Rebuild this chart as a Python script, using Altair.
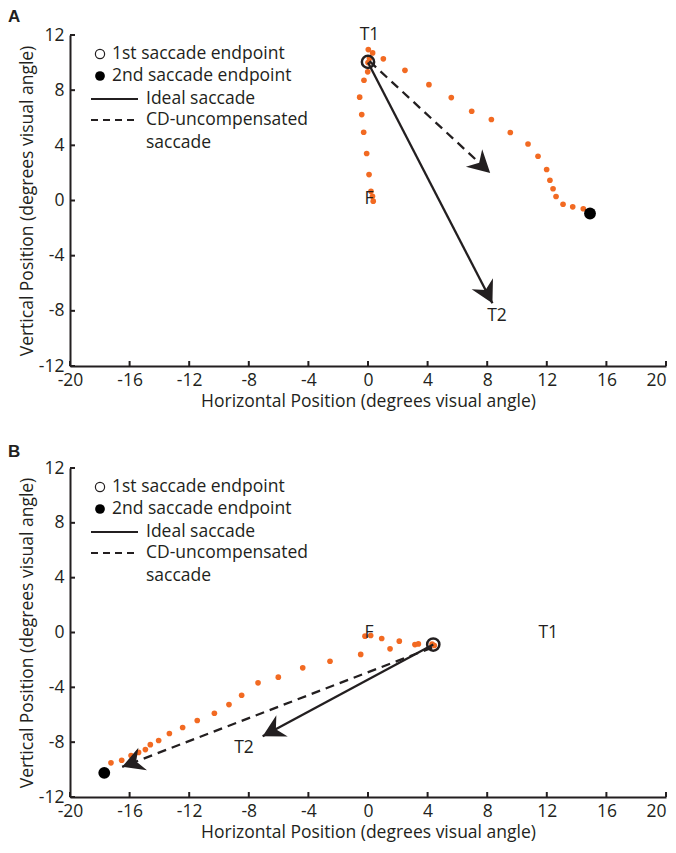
import math
import altair as alt
import pandas as pd

# ---------------- data ----------------
X_TICKS = [-20, -16, -12, -8, -4, 0, 4, 8, 12, 16, 20]
Y_TICKS = [-12, -8, -4, 0, 4, 8, 12]
X_TITLE = "Horizontal Position (degrees visual angle)"
Y_TITLE = "Vertical Position (degrees visual angle)"
LEGEND_LABELS = ["1st saccade endpoint", "2nd saccade endpoint", "Ideal saccade",
                 "CD-uncompensated", "saccade"]
PANEL_LETTERS = ["A", "B"]

# Panel A
A_TRACE_X = [0.2, 0.3, 0.35, 0.07, -0.09, -0.29, -0.42, -0.56, -0.27, -0.02, 0.0, 0.1,
             0.02, 0.31, 1.03, 2.48, 4.09, 5.59, 6.96, 8.28, 9.55, 10.74, 11.41, 11.99,
             12.21, 12.42, 12.62, 13.09, 13.74, 14.45]
A_TRACE_Y = [0.67, 0.3, -0.05, 1.88, 3.41, 4.95, 6.23, 7.49, 8.72, 9.33, 10.0, 10.3,
             10.94, 10.7, 10.27, 9.44, 8.4, 7.46, 6.47, 5.87, 4.93, 4.1, 3.21, 2.25,
             1.47, 0.85, 0.29, -0.27, -0.46, -0.6]
A_FIRST = (0.0, 10.05)
A_SECOND = (14.9, -0.94)
A_IDEAL = (0.0, 10.0, 8.35, -7.45)
A_CD = (0.1, 10.1, 8.2, 2.0)
A_LABELS = ["T1", "F", "T2"]
A_LABEL_X = [0.1, 0.07, 8.66]
A_LABEL_Y = [12.0, 0.1, -8.37]

# Panel B
B_TRACE_X = [-0.2, 0.18, 0.92, 2.1, 3.15, 3.38, 4.3, 4.45, 1.48, -0.49, -2.55, -4.38,
             -6.02, -7.38, -8.48, -9.33, -10.31, -11.46, -12.44, -13.33, -14.05, -14.61,
             -14.94, -15.4, -15.9, -16.53, -17.25]
B_TRACE_Y = [-0.27, -0.22, -0.44, -0.63, -0.88, -0.83, -0.85, -0.95, -1.19, -1.6, -2.1,
             -2.58, -3.26, -3.67, -4.58, -5.26, -5.89, -6.42, -6.93, -7.37, -7.88, -8.18,
             -8.54, -8.75, -8.98, -9.32, -9.51]
B_FIRST = (4.38, -0.88)
B_SECOND = (-17.7, -10.24)
B_IDEAL = (4.38, -0.88, -7.07, -7.57)
B_CD = (4.3, -1.1, -16.5, -9.8)
B_LABELS = ["F", "T1", "T2"]
B_LABEL_X = [0.07, 12.1, -8.32]
B_LABEL_Y = [0.0, 0.0, -8.43]

# ---------------- style ----------------
W = 596
HA = 331
HB = 329
XDOM = [-20, 20]
YDOM = [-12, 12]
INK = "#231f20"
ORANGE = "#f26a22"
FONT = "Open Sans"
FS = 17.5
ARROW = "M0,0L12,22L0,15L-12,22Z"  # tip at origin, pointing up (pixel units at size 4)


def screen_angle(x1, y1, x2, y2, h):
    sx = W / (XDOM[1] - XDOM[0])
    sy = h / (YDOM[1] - YDOM[0])
    dx = (x2 - x1) * sx
    dy = -(y2 - y1) * sy
    return math.degrees(math.atan2(dx, -dy)) % 360


def panel(letter, letter_dy, tx, ty, first, second, ideal, cd, labels, lx, ly, h):
    xs = alt.Scale(domain=XDOM, nice=False, zero=False)
    ys = alt.Scale(domain=YDOM, nice=False, zero=False)
    xax = alt.Axis(values=X_TICKS, title=X_TITLE, labelExpr="'' + datum.value",
                   labelFlush=False, labelOverlap=False, labelPadding=5, titlePadding=4,
                   labelAlign=alt.expr("datum.value == 20 ? 'right' : 'center'"))
    yax = alt.Axis(values=Y_TICKS, title=Y_TITLE, labelExpr="'' + datum.value",
                   labelFlush=False, labelOverlap=False, labelPadding=6, titlePadding=2)

    def X(f):
        return alt.X(f, type="quantitative", scale=xs, axis=xax)

    def Y(f):
        return alt.Y(f, type="quantitative", scale=ys, axis=yax)

    trace = pd.DataFrame({"x": tx, "y": ty})
    seg_ideal = pd.DataFrame({"x": [ideal[0]], "y": [ideal[1]], "x2": [ideal[2]], "y2": [ideal[3]]})
    seg_cd = pd.DataFrame({"x": [cd[0]], "y": [cd[1]], "x2": [cd[2]], "y2": [cd[3]]})
    heads = pd.DataFrame({
        "x": [ideal[2], cd[2]],
        "y": [ideal[3], cd[3]],
        "angle": [screen_angle(*ideal, h), screen_angle(*cd, h)],
    })
    p1 = pd.DataFrame({"x": [first[0]], "y": [first[1]]})
    p2 = pd.DataFrame({"x": [second[0]], "y": [second[1]]})
    txt = pd.DataFrame({"x": lx, "y": ly, "t": labels})
    xt = pd.DataFrame({"v": X_TICKS})
    yt = pd.DataFrame({"v": Y_TICKS})
    one = pd.DataFrame({"k": [0]})

    layers = [
        alt.Chart(xt).mark_rule(color=INK, strokeWidth=2).encode(
            x=X("v"), y=alt.value(h), y2=alt.value(h - 5)),
        alt.Chart(yt).mark_rule(color=INK, strokeWidth=2).encode(
            y=Y("v"), x=alt.value(0), x2=alt.value(5)),
        alt.Chart(trace).mark_circle(size=32, color=ORANGE, opacity=1).encode(
            x=X("x"), y=Y("y")),
        alt.Chart(seg_ideal).mark_rule(color=INK, strokeWidth=2.3).encode(
            x=X("x"), y=Y("y"), x2="x2", y2="y2"),
        alt.Chart(seg_cd).mark_rule(color=INK, strokeWidth=2.3, strokeDash=[9, 6]).encode(
            x=X("x"), y=Y("y"), x2="x2", y2="y2"),
        alt.Chart(heads).mark_point(shape=ARROW, filled=True, size=4, color=INK, opacity=1).encode(
            x=X("x"), y=Y("y"), angle=alt.Angle("angle:Q", scale=None)),
        alt.Chart(p1).mark_point(shape="circle", filled=False, size=150, strokeWidth=2.5,
                                 color=INK, opacity=1).encode(x=X("x"), y=Y("y")),
        alt.Chart(p2).mark_circle(size=140, color="black", opacity=1).encode(
            x=X("x"), y=Y("y")),
        alt.Chart(txt).mark_text(font=FONT, fontSize=FS, color=INK, align="center",
                                 baseline="middle").encode(x=X("x"), y=Y("y"), text="t"),
        # legend
        alt.Chart(one).mark_point(shape="circle", filled=False, size=85, strokeWidth=1.2,
                                  color=INK, opacity=1).encode(x=alt.value(30), y=alt.value(19)),
        alt.Chart(one).mark_circle(size=95, color="black", opacity=1).encode(
            x=alt.value(30), y=alt.value(41)),
        alt.Chart(one).mark_rule(color=INK, strokeWidth=2.2).encode(
            x=alt.value(21), x2=alt.value(68), y=alt.value(64)),
        alt.Chart(one).mark_rule(color=INK, strokeWidth=2.2, strokeDash=[7, 5]).encode(
            x=alt.value(21), x2=alt.value(68), y=alt.value(85)),
        # panel letter
        alt.Chart(one).mark_text(font="Liberation Sans", fontSize=17, fontWeight="bold",
                                 color=INK, align="left", baseline="alphabetic").encode(
            x=alt.value(-62), y=alt.value(letter_dy), text=alt.value(letter)),
    ]
    lpos = [(42, 19), (42, 41), (76, 64), (76, 85), (76, 108)]
    for lab, (px, py) in zip(LEGEND_LABELS, lpos):
        layers.append(
            alt.Chart(one).mark_text(font=FONT, fontSize=FS, color=INK, align="left",
                                     baseline="middle").encode(
                x=alt.value(px), y=alt.value(py), text=alt.value(lab)))

    return alt.layer(*layers).properties(width=W, height=h)


chart_a = panel(PANEL_LETTERS[0], -13, A_TRACE_X, A_TRACE_Y, A_FIRST, A_SECOND, A_IDEAL,
                A_CD, A_LABELS, A_LABEL_X, A_LABEL_Y, HA)
chart_b = panel(PANEL_LETTERS[1], -11, B_TRACE_X, B_TRACE_Y, B_FIRST, B_SECOND, B_IDEAL,
                B_CD, B_LABELS, B_LABEL_X, B_LABEL_Y, HB)

chart = alt.vconcat(chart_a, chart_b, spacing=33).properties(
    padding={"left": 0, "top": 0, "right": 0, "bottom": 3}
).configure_view(strokeWidth=0).configure_axis(
    domainColor=INK, domainWidth=2, ticks=False, grid=False,
    labelFont=FONT, labelFontSize=FS, labelColor=INK,
    titleFont=FONT, titleFontSize=FS, titleFontWeight="normal", titleColor=INK,
)

chart.save("out.html", embed_options={"renderer": "svg", "actions": False})
